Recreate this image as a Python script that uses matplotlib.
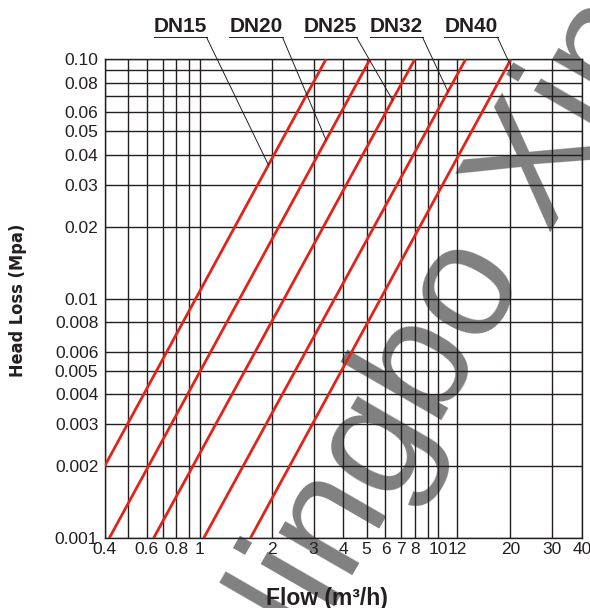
import matplotlib
matplotlib.use('Agg')
import matplotlib.pyplot as plt
import numpy as np
from matplotlib import font_manager
from matplotlib.ticker import FixedLocator, FixedFormatter, NullLocator
from matplotlib.lines import Line2D

# ---------------- data ----------------
series = ['DN15', 'DN20', 'DN25', 'DN32', 'DN40']
flow_start = [0.40, 0.418, 0.641, 1.039, 1.63]
loss_start = [0.002, 0.001, 0.001, 0.001, 0.001]
flow_end = [3.38, 5.17, 7.96, 13.0, 20.1]
loss_end = [0.1, 0.1, 0.1, 0.1, 0.1]
leader_loss = [0.0362, 0.046, 0.0676, 0.0733, 0.097]

x_ticks = [0.4, 0.6, 0.8, 1, 2, 3, 4, 5, 6, 7, 8, 10, 12, 20, 30, 40]
x_ticklabels = ['0.4', '0.6', '0.8', '1', '2', '3', '4', '5', '6', '7', '8',
                '10', '12', '20', '30', '40']
x_grid = [0.4, 0.5, 0.6, 0.7, 0.8, 0.9, 1, 2, 3, 4, 5, 6, 7, 8, 9, 10, 12, 20, 30, 40]
y_ticks = [0.001, 0.002, 0.003, 0.004, 0.005, 0.006, 0.008, 0.01,
           0.02, 0.03, 0.04, 0.05, 0.06, 0.08, 0.10]
y_ticklabels = ['0.001', '0.002', '0.003', '0.004', '0.005', '0.006', '0.008', '0.01',
                '0.02', '0.03', '0.04', '0.05', '0.06', '0.08', '0.10']
y_grid = [0.001, 0.002, 0.003, 0.004, 0.005, 0.006, 0.008, 0.01,
          0.02, 0.03, 0.04, 0.05, 0.06, 0.07, 0.08, 0.09, 0.10]

installed = {f.name for f in font_manager.fontManager.ttflist}
narrow = 'Liberation Sans Narrow' if 'Liberation Sans Narrow' in installed else None

# ---------------- layout ----------------
W, H = 590, 608
fig = plt.figure(figsize=(W / 100, H / 100), dpi=100)
fig.patch.set_facecolor('white')
L, R, T, B = 104.6, 582.2, 59.3, 538.3
ax = fig.add_axes([L / W, 1 - B / H, (R - L) / W, (B - T) / H])
ax.set_facecolor('none')
ax.set_xscale('log')
ax.set_yscale('log')
ax.set_xlim(0.4, 40)
ax.set_ylim(0.001, 0.1)

gridc = '#231f20'
for xv in x_grid:
    ax.axvline(xv, color=gridc, lw=1.0, zorder=1)
for yv in y_grid:
    ax.axhline(yv, color=gridc, lw=1.0, zorder=1)
for s in ax.spines.values():
    s.set_color(gridc)
    s.set_linewidth(1.0)

ax.xaxis.set_major_locator(FixedLocator(x_ticks))
ax.xaxis.set_major_formatter(FixedFormatter(x_ticklabels))
ax.xaxis.set_minor_locator(NullLocator())
ax.yaxis.set_major_locator(FixedLocator(y_ticks))
ax.yaxis.set_major_formatter(FixedFormatter(y_ticklabels))
ax.yaxis.set_minor_locator(NullLocator())
ax.tick_params(axis='both', length=0, labelsize=12.5, colors='#231f20')
ax.tick_params(axis='x', pad=3.0)
ax.tick_params(axis='y', pad=4.5)
for lab in ax.get_xticklabels() + ax.get_yticklabels():
    lab.set_family(['Liberation Sans', 'DejaVu Sans'])

red = '#e2231a'
for xs, ys, xe, ye in zip(flow_start, loss_start, flow_end, loss_end):
    ax.plot([xs, xe], [ys, ye], color=red, lw=2.0, zorder=3, solid_capstyle='butt')

# ---------------- labels with leaders ----------------
label_cx = [180, 256, 330, 396, 471]
half_w = 26.5
y_base = 31.7
y_under = 37.3
for name, cx, yl, xs, ys, xe, ye in zip(series, label_cx, leader_loss,
                                        flow_start, loss_start, flow_end, loss_end):
    fig.text(cx / W, 1 - y_base / H, name, ha='center', va='baseline',
             fontsize=15, fontweight='bold', color='#231f20',
             family=['Liberation Sans', 'DejaVu Sans'])
    fig.add_artist(Line2D([(cx - half_w) / W, (cx + half_w) / W],
                          [1 - y_under / H, 1 - y_under / H],
                          transform=fig.transFigure, color='#231f20', lw=0.7))
    t = (np.log10(yl) - np.log10(ys)) / (np.log10(ye) - np.log10(ys))
    xd = 10 ** (np.log10(xs) + t * (np.log10(xe) - np.log10(xs)))
    ax.annotate('', xy=(xd, yl), xycoords='data',
                xytext=((cx + half_w) / W, 1 - y_under / H), textcoords='figure fraction',
                arrowprops=dict(arrowstyle='-', color='#231f20', lw=0.7,
                                shrinkA=0, shrinkB=0),
                annotation_clip=False, zorder=4)

if narrow:
    fig.text(18 / W, 1 - 300 / H, 'Head Loss (Mpa)', rotation=90, ha='center', va='center',
             fontsize=13.5, fontweight='bold', color='#231f20',
             family=[narrow, 'DejaVu Sans'])
else:
    fig.text(18 / W, 1 - 300 / H, 'Head Loss (Mpa)', rotation=90, ha='center', va='center',
             fontsize=13, fontweight='bold', color='#231f20', fontstretch='condensed',
             family=['DejaVu Sans'])
fig.text(326.5 / W, 1 - 598 / H, 'Flow (m³/h)', ha='center', va='center',
         fontsize=16.5, fontweight='bold', color='#231f20',
         family=['Liberation Sans', 'DejaVu Sans'])

# ---------------- watermark ----------------
fig.text(272 / W, 1 - 716 / H, 'Ningbo Xinyu', rotation=60, rotation_mode='anchor',
         ha='left', va='baseline', fontsize=116, color='#808080', zorder=-1,
         family=['Liberation Sans', 'DejaVu Sans'])

fig.savefig('out.png', dpi=100, facecolor='white')
